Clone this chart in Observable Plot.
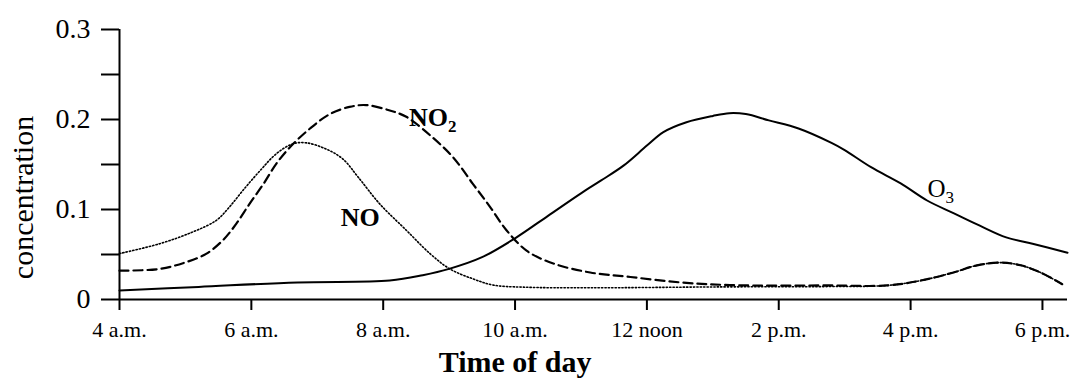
<!DOCTYPE html>
<html><head><meta charset="utf-8">
<script src="https://cdn.jsdelivr.net/npm/d3@7"></script>
<script src="https://cdn.jsdelivr.net/npm/@observablehq/plot@0.6"></script>
<style>body{margin:0;background:#fff} svg{display:block}</style>
</head><body><div id="chart"></div>
<script>
// ---- data (hour of day, concentration) ----
const hoursO3 = [4.0, 5.2, 6.7, 8.1, 8.6, 9.0, 9.5, 10.0, 10.5, 11.0, 11.3, 11.65, 12.0, 12.25, 12.6, 13.0, 13.25, 13.5, 13.85, 14.3, 14.8, 15.0, 15.4, 15.85, 16.25, 16.65, 17.05, 17.45, 17.85, 18.38];
const o3 = [0.010, 0.014, 0.019, 0.021, 0.027, 0.034, 0.047, 0.068, 0.093, 0.118, 0.132, 0.149, 0.171, 0.186, 0.197, 0.204, 0.207, 0.206, 0.199, 0.190, 0.174, 0.166, 0.147, 0.129, 0.110, 0.096, 0.082, 0.069, 0.062, 0.052];

const hoursNO2 = [4.0, 4.61, 5.01, 5.32, 5.57, 5.77, 5.97, 6.18, 6.38, 6.61, 6.89, 7.19, 7.49, 7.74, 8.10, 8.35, 8.75, 9.06, 9.36, 9.62, 9.87, 10.18, 10.58, 11.14, 11.75, 12.51, 13.26, 14.78, 15.64, 16.15, 16.65, 17.01, 17.37, 17.67, 17.97, 18.3];
const no2 = [0.032, 0.034, 0.0415, 0.051, 0.066, 0.084, 0.106, 0.128, 0.151, 0.171, 0.190, 0.206, 0.214, 0.216, 0.210, 0.203, 0.180, 0.158, 0.1285, 0.103, 0.077, 0.054, 0.040, 0.030, 0.025, 0.019, 0.016, 0.0156, 0.0156, 0.021, 0.030, 0.038, 0.041, 0.038, 0.030, 0.017];

const hoursNO = [4.0, 4.61, 5.11, 5.47, 5.67, 5.87, 6.13, 6.38, 6.63, 6.84, 7.14, 7.39, 7.62, 7.95, 8.35, 8.71, 9.01, 9.36, 9.67, 10.13, 11.14, 13.11, 14.78, 15.64, 16.15, 16.65, 17.01, 17.37, 17.67, 17.97, 18.3];
const no = [0.051, 0.062, 0.075, 0.088, 0.103, 0.121, 0.143, 0.162, 0.173, 0.174, 0.167, 0.156, 0.136, 0.106, 0.077, 0.051, 0.034, 0.023, 0.016, 0.0137, 0.013, 0.014, 0.0144, 0.0156, 0.021, 0.030, 0.038, 0.041, 0.038, 0.030, 0.017];

const xDomain = [4, 18.38];
const xTicks = [4, 6, 8, 10, 12, 14, 16, 18];
const xTickLabels = ["4 a.m.", "6 a.m.", "8 a.m.", "10 a.m.", "12 noon", "2 p.m.", "4 p.m.", "6 p.m."];
const yMajor = [0, 0.1, 0.2, 0.3];
const yTickLabels = ["0", "0.1", "0.2", "0.3"];
const yMinor = [0.05, 0.15, 0.25];

const seriesLabels = ["NO2", "NO", "O3"];
const labelHours = [8.39, 7.357, 16.257];
const labelConc = [0.2017, 0.0911, 0.1228];

const xTitle = "Time of day";
const xTitleHour = 10;
const yTitle = "concentration";

// ---- build tables ----
const toRows = (hs, vs) => hs.map((h, i) => ({hour: h, conc: vs[i]}));
const rowsO3 = toRows(hoursO3, o3);
const rowsNO2 = toRows(hoursNO2, no2);
const rowsNO = toRows(hoursNO, no);
const labels = seriesLabels.map((t, i) => ({text: t, hour: labelHours[i], conc: labelConc[i]}));

const chart = Plot.plot({
  width: 1072,
  height: 378,
  marginLeft: 119,
  marginRight: 5,
  marginTop: 29,
  marginBottom: 79,
  style: {fontFamily: "'Liberation Serif', 'Times New Roman', serif", fontSize: "22px", color: "black", background: "white"},
  x: {domain: xDomain},
  y: {domain: [yMajor[0], yMajor[yMajor.length - 1]]},
  marks: [
    Plot.axisY(yMajor, {tickSize: 18, tickPadding: 11, fontSize: 28, strokeWidth: 2, label: null,
      tickFormat: d => yTickLabels[yMajor.indexOf(d)]}),
    Plot.axisY(yMinor, {tickSize: 18, strokeWidth: 2, label: null, tickFormat: () => ""}),
    Plot.axisX(xTicks, {tickSize: 11, tickPadding: 11, fontSize: 22, strokeWidth: 2, label: null,
      tickFormat: d => xTickLabels[xTicks.indexOf(d)]}),
    Plot.ruleY([yMajor[0]], {stroke: "black", strokeWidth: 2}),
    Plot.ruleX([xDomain[0]], {y1: yMajor[0], y2: yMajor[yMajor.length - 1], stroke: "black", strokeWidth: 2}),
    Plot.line(rowsO3, {x: "hour", y: "conc", curve: "catmull-rom", stroke: "black", strokeWidth: 2}),
    Plot.line(rowsNO2, {x: "hour", y: "conc", curve: "catmull-rom", stroke: "black", strokeWidth: 2.2, strokeDasharray: "9,5"}),
    Plot.line(rowsNO, {x: "hour", y: "conc", curve: "catmull-rom", stroke: "black", strokeWidth: 1.6, strokeDasharray: "1.3,2.1"}),
    Plot.text(labels.slice(0, 2), {x: "hour", y: "conc", text: "text", textAnchor: "start", fontWeight: "bold", fontSize: 26, fill: "black"}),
    Plot.text(labels.slice(2), {x: "hour", y: "conc", text: "text", textAnchor: "start", fontSize: 25, fill: "black"}),
    Plot.text([xTitle], {x: () => xTitleHour, text: d => d, frameAnchor: "bottom", lineAnchor: "middle", dy: 63, fontWeight: "bold", fontSize: 30, fill: "black"}),
    Plot.text([yTitle], {text: d => d, frameAnchor: "left", textAnchor: "middle", lineAnchor: "middle", rotate: -90, dx: -96, dy: 33, fontSize: 30, fill: "black"})
  ]
});

// turn trailing digits of the series labels into subscripts
chart.querySelectorAll("text").forEach(t => {
  const s = t.textContent;
  if (seriesLabels.includes(s)) {
    const m = s.match(/^(\D+)(\d)$/);
    if (m) {
      t.textContent = m[1];
      const sub = document.createElementNS("http://www.w3.org/2000/svg", "tspan");
      sub.setAttribute("font-size", "17");
      sub.setAttribute("dy", "6");
      sub.textContent = m[2];
      t.appendChild(sub);
    }
  }
});

document.getElementById("chart").appendChild(chart);
</script>
</body></html>
